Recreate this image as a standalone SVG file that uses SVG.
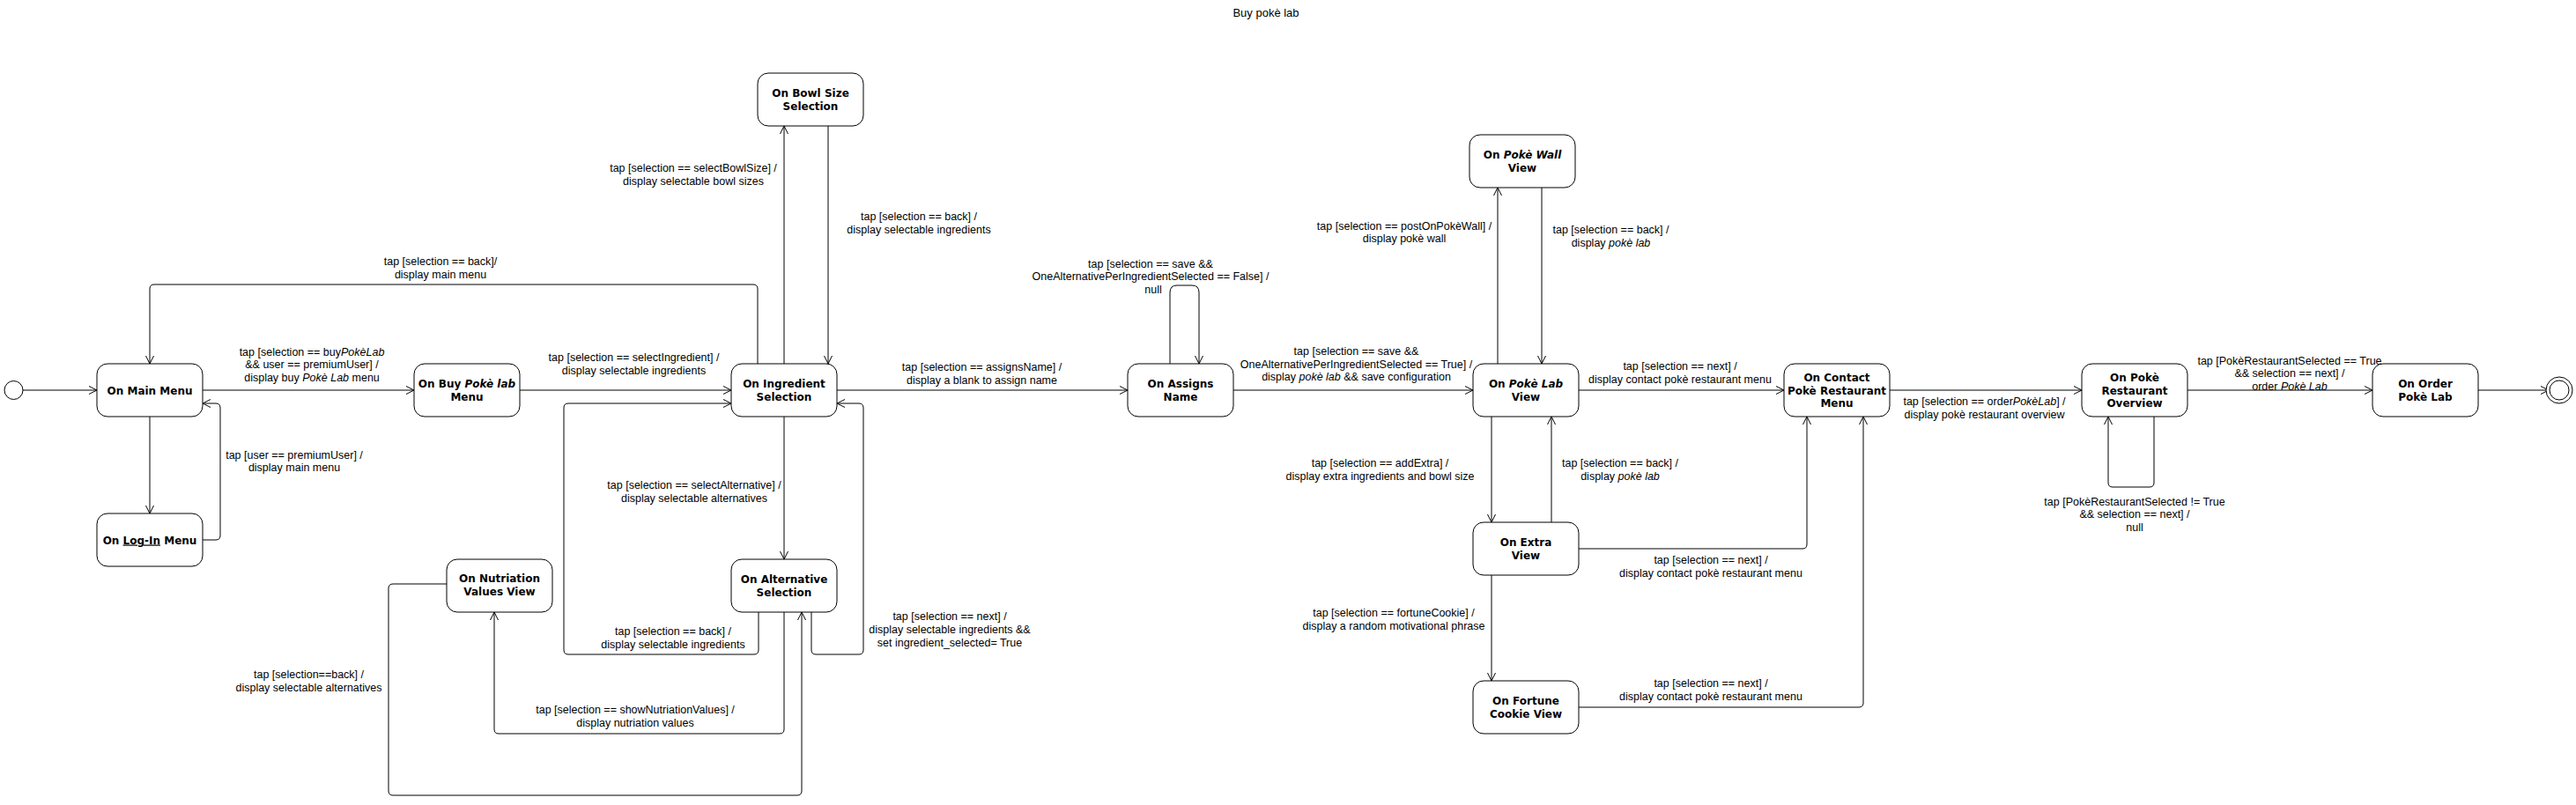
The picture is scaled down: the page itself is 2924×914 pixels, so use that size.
<svg xmlns="http://www.w3.org/2000/svg" width="2924" height="914" viewBox="0 0 2924 914">
<style>
.bg{fill:#ffffff}
.node rect{fill:#ffffff;stroke:#000000;stroke-width:1}
.nt{font-family:"DejaVu Sans",Verdana,sans-serif;font-weight:bold;font-size:12px;text-anchor:middle;fill:#000}
.lbl{font-family:"Liberation Sans",Arial,sans-serif;font-size:12.5px;text-anchor:middle;fill:#000}
.title{font-family:"Liberation Sans",Arial,sans-serif;font-size:13px;text-anchor:middle;fill:#000}
.edge{fill:none;stroke:#000000;stroke-width:1;marker-end:url(#arr)}
.it{font-style:italic}
.ul{text-decoration:underline}
</style>
<defs>
<marker id="arr" markerUnits="userSpaceOnUse" markerWidth="12" markerHeight="12" refX="9" refY="5" orient="auto">
<path d="M0,0.5 L9,5 L0,9.5" fill="none" stroke="#000" stroke-width="1"/>
</marker>
</defs>
<rect class="bg" x="0" y="0" width="2924" height="914"/>
<text class="title" x="1437" y="19">Buy pokè lab</text>

<g id="connectors">
<path class="edge" d="M26,443 L110,443"/>
<path class="edge" d="M230,443 L470,443"/>
<path class="edge" d="M170,473 L170,583"/>
<path class="edge" d="M230,613 L245,613 Q250,613 250,608 L250,463 Q250,458 245,458 L230,458"/>
<path class="edge" d="M590,443 L830,443"/>
<path class="edge" d="M860,413 L860,328 Q860,323 855,323 L175,323 Q170,323 170,328 L170,413"/>
<path class="edge" d="M890,413 L890,143"/>
<path class="edge" d="M940,143 L940,413"/>
<path class="edge" d="M890,473 L890,635"/>
<path class="edge" d="M861,695 L861,738 Q861,743 856,743 L645,743 Q640,743 640,738 L640,463 Q640,458 645,458 L830,458"/>
<path class="edge" d="M921,695 L921,738 Q921,743 926,743 L975,743 Q980,743 980,738 L980,463 Q980,458 975,458 L950,458"/>
<path class="edge" d="M890,695 L890,828 Q890,833 885,833 L566,833 Q561,833 561,828 L561,695"/>
<path class="edge" d="M507,663 L446,663 Q441,663 441,668 L441,898 Q441,903 446,903 L905,903 Q910,903 910,898 L910,695"/>
<path class="edge" d="M950,443 L1280,443"/>
<path class="edge" d="M1328,413 L1328,332 Q1328,324 1336,324 L1353,324 Q1361,324 1361,332 L1361,413"/>
<path class="edge" d="M1400,443 L1672,443"/>
<path class="edge" d="M1700,413 L1700,213"/>
<path class="edge" d="M1750,213 L1750,413"/>
<path class="edge" d="M1693,473 L1693,593"/>
<path class="edge" d="M1761,593 L1761,473"/>
<path class="edge" d="M1693,653 L1693,773"/>
<path class="edge" d="M1792,443 L2025,443"/>
<path class="edge" d="M1792,623 L2046,623 Q2051,623 2051,618 L2051,473"/>
<path class="edge" d="M1792,803 L2110,803 Q2115,803 2115,798 L2115,473"/>
<path class="edge" d="M2145,443 L2363,443"/>
<path class="edge" d="M2445,473 L2445,548 Q2445,553 2440,553 L2398,553 Q2393,553 2393,548 L2393,473"/>
<path class="edge" d="M2483,443 L2693,443"/>
<path class="edge" d="M2813,443 L2893,443"/>

<text class="lbl" x="354" y="403.5">tap [selection == buy<tspan class="it">PokèLab</tspan></text>
<text class="lbl" x="354" y="418">&amp;&amp; user == premiumUser] /</text>
<text class="lbl" x="354" y="432.5">display buy <tspan class="it">Pokè Lab</tspan> menu</text>
<text class="lbl" x="334" y="520.5">tap [user == premiumUser] /</text>
<text class="lbl" x="334" y="535">display main menu</text>
<text class="lbl" x="719.5" y="410">tap [selection == selectIngredient] /</text>
<text class="lbl" x="719.5" y="425">display selectable ingredients</text>
<text class="lbl" x="500" y="301">tap [selection == back]/</text>
<text class="lbl" x="500" y="316">display main menu</text>
<text class="lbl" x="787" y="195">tap [selection == selectBowlSize] /</text>
<text class="lbl" x="787" y="210">display selectable bowl sizes</text>
<text class="lbl" x="1043" y="250">tap [selection == back] /</text>
<text class="lbl" x="1043" y="265">display selectable ingredients</text>
<text class="lbl" x="788" y="555">tap [selection == selectAlternative] /</text>
<text class="lbl" x="788" y="570">display selectable alternatives</text>
<text class="lbl" x="764" y="720.5">tap [selection == back] /</text>
<text class="lbl" x="764" y="735.5">display selectable ingredients</text>
<text class="lbl" x="1078" y="703.5">tap [selection == next] /</text>
<text class="lbl" x="1078" y="718.5">display selectable ingredients &amp;&amp;</text>
<text class="lbl" x="1078" y="733.5">set ingredient_selected= True</text>
<text class="lbl" x="721" y="810">tap [selection == showNutriationValues] /</text>
<text class="lbl" x="721" y="825">display nutriation values</text>
<text class="lbl" x="350.5" y="770">tap [selection==back] /</text>
<text class="lbl" x="350.5" y="785">display selectable alternatives</text>
<text class="lbl" x="1114.5" y="421">tap [selection == assignsName] /</text>
<text class="lbl" x="1114.5" y="436">display a blank to assign name</text>
<text class="lbl" x="1306" y="303.5">tap [selection == save &amp;&amp;</text>
<text class="lbl" x="1306" y="318">OneAlternativePerIngredientSelected == False] /</text>
<text class="lbl" x="1309" y="332.5">null</text>
<text class="lbl" x="1539.5" y="403">tap [selection == save &amp;&amp;</text>
<text class="lbl" x="1539.5" y="418">OneAlternativePerIngredientSelected == True] /</text>
<text class="lbl" x="1539.5" y="432">display <tspan class="it">pokè lab</tspan> &amp;&amp; save configuration</text>
<text class="lbl" x="1594" y="260.5">tap [selection == postOnPokèWall] /</text>
<text class="lbl" x="1594" y="275">display pokè wall</text>
<text class="lbl" x="1828.5" y="264.5">tap [selection == back] /</text>
<text class="lbl" x="1828.5" y="279.5">display <tspan class="it">pokè lab</tspan></text>
<text class="lbl" x="1566.5" y="530">tap [selection == addExtra] /</text>
<text class="lbl" x="1566.5" y="545">display extra ingredients and bowl size</text>
<text class="lbl" x="1839" y="530">tap [selection == back] /</text>
<text class="lbl" x="1839" y="545">display <tspan class="it">pokè lab</tspan></text>
<text class="lbl" x="1582" y="700">tap [selection == fortuneCookie] /</text>
<text class="lbl" x="1582" y="715">display a random motivational phrase</text>
<text class="lbl" x="1907" y="420">tap [selection == next] /</text>
<text class="lbl" x="1907" y="435">display contact pokè restaurant menu</text>
<text class="lbl" x="1942" y="640">tap [selection == next] /</text>
<text class="lbl" x="1942" y="655">display contact pokè restaurant menu</text>
<text class="lbl" x="1942" y="780">tap [selection == next] /</text>
<text class="lbl" x="1942" y="795">display contact pokè restaurant menu</text>
<text class="lbl" x="2252.5" y="460">tap [selection == order<tspan class="it">PokèLab</tspan>] /</text>
<text class="lbl" x="2252.5" y="475">display pokè restaurant overview</text>
<text class="lbl" x="2423" y="573.5">tap [PokèRestaurantSelected != True</text>
<text class="lbl" x="2423" y="588">&amp;&amp; selection == next] /</text>
<text class="lbl" x="2423" y="603">null</text>
<text class="lbl" x="2599" y="413.5">tap [PokèRestaurantSelected == True</text>
<text class="lbl" x="2599" y="428">&amp;&amp; selection == next] /</text>
<text class="lbl" x="2599" y="442.5">order <tspan class="it">Pokè Lab</tspan></text>
</g>

<g id="start"><circle cx="15.5" cy="443" r="10.5" fill="#fff" stroke="#000" stroke-width="1"/></g>
<g id="end"><circle cx="2905" cy="443" r="15" fill="#fff" stroke="#000" stroke-width="1"/><circle cx="2905" cy="443" r="11" fill="#fff" stroke="#000" stroke-width="1"/></g>

<g id="mainMenu" class="node"><rect x="110" y="413" width="120" height="60" rx="12"/><text class="nt" x="170" y="447.5">On Main Menu</text></g>
<g id="loginMenu" class="node"><rect x="110" y="583" width="120" height="60" rx="12"/><text class="nt" x="170" y="617.5">On <tspan class="ul">Log-In</tspan> Menu</text></g>
<g id="buyMenu" class="node"><rect x="470" y="413" width="120" height="60" rx="12"/><text class="nt" x="530" y="440">On Buy <tspan class="it">Pokè lab</tspan></text><text class="nt" x="530" y="455">Menu</text></g>
<g id="ingredient" class="node"><rect x="830" y="413" width="120" height="60" rx="12"/><text class="nt" x="890" y="440">On Ingredient</text><text class="nt" x="890" y="455">Selection</text></g>
<g id="bowlSize" class="node"><rect x="860" y="83" width="120" height="60" rx="12"/><text class="nt" x="920" y="110">On Bowl Size</text><text class="nt" x="920" y="125">Selection</text></g>
<g id="alternative" class="node"><rect x="830" y="635" width="120" height="60" rx="12"/><text class="nt" x="890" y="662">On Alternative</text><text class="nt" x="890" y="677">Selection</text></g>
<g id="nutrition" class="node"><rect x="507" y="635" width="120" height="60" rx="12"/><text class="nt" x="567" y="661">On Nutriation</text><text class="nt" x="567" y="676">Values View</text></g>
<g id="assignsName" class="node"><rect x="1280" y="413" width="120" height="60" rx="12"/><text class="nt" x="1340" y="440">On Assigns</text><text class="nt" x="1340" y="455">Name</text></g>
<g id="pokeLabView" class="node"><rect x="1672" y="413" width="120" height="60" rx="12"/><text class="nt" x="1732" y="440">On <tspan class="it">Pokè Lab</tspan></text><text class="nt" x="1732" y="455">View</text></g>
<g id="pokeWallView" class="node"><rect x="1668" y="153" width="120" height="60" rx="12"/><text class="nt" x="1728" y="180">On <tspan class="it">Pokè Wall</tspan></text><text class="nt" x="1728" y="195">View</text></g>
<g id="extraView" class="node"><rect x="1672" y="593" width="120" height="60" rx="12"/><text class="nt" x="1732" y="620">On Extra</text><text class="nt" x="1732" y="635">View</text></g>
<g id="fortuneView" class="node"><rect x="1672" y="773" width="120" height="60" rx="12"/><text class="nt" x="1732" y="800">On Fortune</text><text class="nt" x="1732" y="815">Cookie View</text></g>
<g id="contactMenu" class="node"><rect x="2025" y="413" width="120" height="60" rx="12"/><text class="nt" x="2085" y="433">On Contact</text><text class="nt" x="2085" y="447.5">Pokè Restaurant</text><text class="nt" x="2085" y="462">Menu</text></g>
<g id="restaurantOverview" class="node"><rect x="2363" y="413" width="120" height="60" rx="12"/><text class="nt" x="2423" y="433">On Pokè</text><text class="nt" x="2423" y="447.5">Restaurant</text><text class="nt" x="2423" y="462">Overview</text></g>
<g id="orderPokeLab" class="node"><rect x="2693" y="413" width="120" height="60" rx="12"/><text class="nt" x="2753" y="440">On Order</text><text class="nt" x="2753" y="455">Pokè Lab</text></g>
</svg>
